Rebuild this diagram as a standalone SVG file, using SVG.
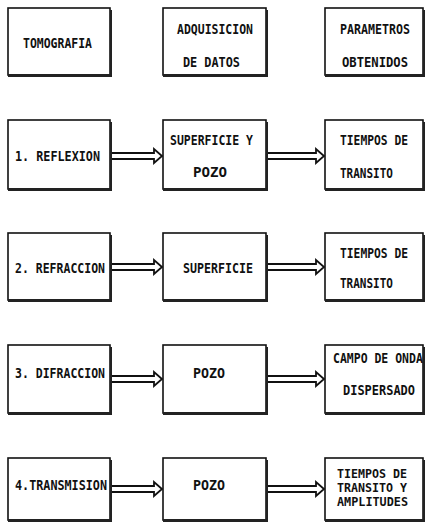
<svg xmlns="http://www.w3.org/2000/svg" width="426" height="526" viewBox="0 0 426 526">
<style>
.box{fill:#fff;stroke:#111;stroke-width:1.6}
.sh{fill:#222}
.t{font-family:"DejaVu Sans Mono","Liberation Mono",monospace;font-size:14px;font-weight:bold;fill:#111}
.s{font-size:12px}
.arr{fill:#fff;stroke:#111;stroke-width:1.8;stroke-linejoin:miter}
</style>
<rect width="426" height="526" fill="#fff"/>
<g id="connectors">
<path class="arr" d="M112,153 L154,153 L154,149 L162,156 L154,163 L154,159 L112,159"/>
<path class="arr" d="M268,153 L316,153 L316,149 L324,156 L316,163 L316,159 L268,159"/>
<path class="arr" d="M112,264 L154,264 L154,260 L162,267 L154,274 L154,270 L112,270"/>
<path class="arr" d="M268,264 L316,264 L316,260 L324,267 L316,274 L316,270 L268,270"/>
<path class="arr" d="M112,376 L154,376 L154,372 L162,379 L154,386 L154,382 L112,382"/>
<path class="arr" d="M268,376 L316,376 L316,372 L324,379 L316,386 L316,382 L268,382"/>
<path class="arr" d="M112,486 L154,486 L154,482 L162,489 L154,496 L154,492 L112,492"/>
<path class="arr" d="M268,486 L316,486 L316,482 L324,489 L316,496 L316,492 L268,492"/>
</g>
<g id="tomografia"><rect class="box" x="8" y="8" width="102" height="67"/><rect class="sh" x="8" y="74" width="104" height="3"/><rect class="sh" x="110" y="10" width="2" height="67"/>
<text class="t" x="23" y="48" textLength="69" lengthAdjust="spacingAndGlyphs">TOMOGRAFIA</text></g>
<g id="adquisicion"><rect class="box" x="163" y="8" width="103" height="67"/><rect class="sh" x="163" y="74" width="105" height="3"/><rect class="sh" x="266" y="10" width="2" height="67"/>
<text class="t" x="177" y="34" textLength="76" lengthAdjust="spacingAndGlyphs">ADQUISICION</text>
<text class="t" x="183" y="67" textLength="57" lengthAdjust="spacingAndGlyphs">DE DATOS</text></g>
<g id="parametros"><rect class="box" x="325" y="8" width="98" height="67"/><rect class="sh" x="325" y="74" width="100" height="3"/><rect class="sh" x="423" y="10" width="2" height="67"/>
<text class="t" x="340" y="34" textLength="70" lengthAdjust="spacingAndGlyphs">PARAMETROS</text>
<text class="t" x="342" y="67" textLength="66" lengthAdjust="spacingAndGlyphs">OBTENIDOS</text></g>

<g id="reflexion"><rect class="box" x="8" y="120" width="102" height="69"/><rect class="sh" x="8" y="188" width="104" height="3"/><rect class="sh" x="110" y="122" width="2" height="69"/>
<text class="t" x="15" y="161" textLength="85" lengthAdjust="spacingAndGlyphs">1. REFLEXION</text></g>
<g id="superficie-pozo"><rect class="box" x="163" y="120" width="103" height="69"/><rect class="sh" x="163" y="188" width="105" height="3"/><rect class="sh" x="266" y="122" width="2" height="69"/>
<text class="t" x="170" y="145" textLength="83" lengthAdjust="spacingAndGlyphs">SUPERFICIE Y</text>
<text class="t" x="193" y="177" textLength="34" lengthAdjust="spacingAndGlyphs">POZO</text></g>
<g id="tiempos1"><rect class="box" x="325" y="120" width="98" height="69"/><rect class="sh" x="325" y="188" width="100" height="3"/><rect class="sh" x="423" y="122" width="2" height="69"/>
<text class="t" x="340" y="145" textLength="68" lengthAdjust="spacingAndGlyphs">TIEMPOS DE</text>
<text class="t" x="340" y="178" textLength="53" lengthAdjust="spacingAndGlyphs">TRANSITO</text></g>

<g id="refraccion"><rect class="box" x="8" y="233" width="102" height="67"/><rect class="sh" x="8" y="299" width="104" height="3"/><rect class="sh" x="110" y="235" width="2" height="67"/>
<text class="t" x="15" y="273" textLength="90" lengthAdjust="spacingAndGlyphs">2. REFRACCION</text></g>
<g id="superficie"><rect class="box" x="163" y="233" width="103" height="67"/><rect class="sh" x="163" y="299" width="105" height="3"/><rect class="sh" x="266" y="235" width="2" height="67"/>
<text class="t" x="183" y="273" textLength="70" lengthAdjust="spacingAndGlyphs">SUPERFICIE</text></g>
<g id="tiempos2"><rect class="box" x="325" y="233" width="98" height="67"/><rect class="sh" x="325" y="299" width="100" height="3"/><rect class="sh" x="423" y="235" width="2" height="67"/>
<text class="t" x="340" y="258" textLength="68" lengthAdjust="spacingAndGlyphs">TIEMPOS DE</text>
<text class="t" x="340" y="288" textLength="53" lengthAdjust="spacingAndGlyphs">TRANSITO</text></g>

<g id="difraccion"><rect class="box" x="8" y="345" width="102" height="68"/><rect class="sh" x="8" y="412" width="104" height="3"/><rect class="sh" x="110" y="347" width="2" height="68"/>
<text class="t" x="15" y="378" textLength="90" lengthAdjust="spacingAndGlyphs">3. DIFRACCION</text></g>
<g id="pozo1"><rect class="box" x="163" y="345" width="103" height="68"/><rect class="sh" x="163" y="412" width="105" height="3"/><rect class="sh" x="266" y="347" width="2" height="68"/>
<text class="t" x="193" y="378" textLength="32" lengthAdjust="spacingAndGlyphs">POZO</text></g>
<g id="campo"><rect class="box" x="325" y="345" width="98" height="68"/><rect class="sh" x="325" y="412" width="100" height="3"/><rect class="sh" x="423" y="347" width="2" height="68"/>
<text class="t" transform="translate(333,363) scale(0.82,1)" x="0" y="0">CAMPO DE ONDA</text>
<text class="t" x="343" y="395" textLength="72" lengthAdjust="spacingAndGlyphs">DISPERSADO</text></g>

<g id="transmision"><rect class="box" x="8" y="458" width="102" height="62"/><rect class="sh" x="8" y="519" width="104" height="3"/><rect class="sh" x="110" y="460" width="2" height="62"/>
<text class="t" x="15" y="490" textLength="92" lengthAdjust="spacingAndGlyphs">4.TRANSMISION</text></g>
<g id="pozo2"><rect class="box" x="163" y="458" width="103" height="62"/><rect class="sh" x="163" y="519" width="105" height="3"/><rect class="sh" x="266" y="460" width="2" height="62"/>
<text class="t" x="193" y="490" textLength="32" lengthAdjust="spacingAndGlyphs">POZO</text></g>
<g id="tiempos-amplitudes"><rect class="box" x="325" y="458" width="98" height="62"/><rect class="sh" x="325" y="519" width="100" height="3"/><rect class="sh" x="423" y="460" width="2" height="62"/>
<text class="t s" x="337" y="478" textLength="70" lengthAdjust="spacingAndGlyphs">TIEMPOS DE</text>
<text class="t s" x="337" y="492" textLength="70" lengthAdjust="spacingAndGlyphs">TRANSITO Y</text>
<text class="t s" x="337" y="506" textLength="71" lengthAdjust="spacingAndGlyphs">AMPLITUDES</text></g>
</svg>
